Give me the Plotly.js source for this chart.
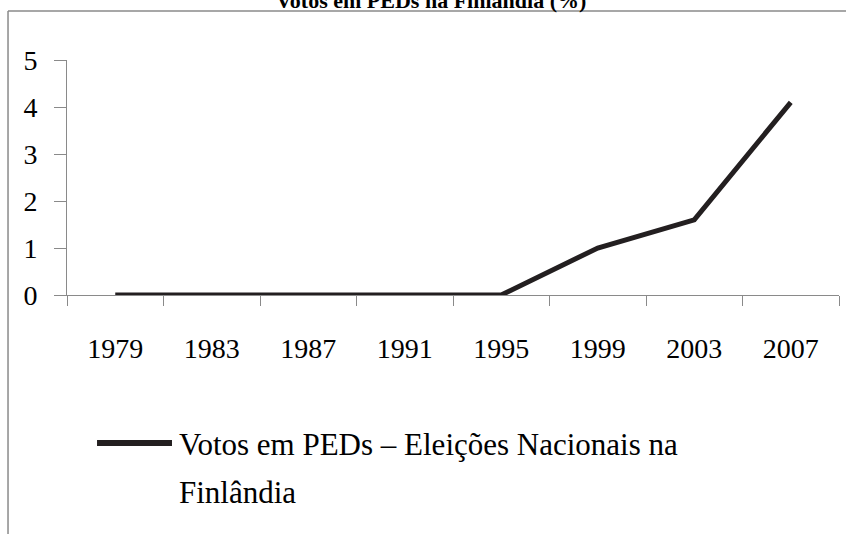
<!DOCTYPE html>
<html>
<head>
<meta charset="utf-8">
<script src="https://cdn.plot.ly/plotly-3.0.1.min.js"></script>
<style>html,body{margin:0;padding:0;background:#fff;}#chart{width:846px;height:534px;}</style>
</head>
<body>
<div id="chart"></div>
<script>
const years = ['1979', '1983', '1987', '1991', '1995', '1999', '2003', '2007'];
const votes = [0, 0, 0, 0, 0, 1.0, 1.6, 4.1];
const yTicks = [0, 1, 2, 3, 4, 5];
const chartTitle = 'Votos em PEDs na Finlândia (%)';
const seriesName = 'Votos em PEDs – Eleições Nacionais na Finlândia';
const legendLines = ['Votos em PEDs – Eleições Nacionais na', 'Finlândia'];

const FONT = 'Liberation Serif, Times New Roman, serif';
const lineColor = '#231f20';
const axisColor = '#8a8a8a';

const trace = {
  x: years,
  y: votes,
  type: 'scatter',
  mode: 'lines',
  name: seriesName,
  line: {color: lineColor, width: 5},
  showlegend: false
};

const layout = {
  width: 846,
  height: 534,
  margin: {l: 67, r: 7, t: 60, b: 239},
  paper_bgcolor: '#ffffff',
  plot_bgcolor: '#ffffff',
  font: {family: FONT, color: '#000000', size: 28},
  showlegend: false,
  xaxis: {
    type: 'category',
    range: [-0.5, 7.5],
    tickson: 'boundaries',
    ticks: 'outside',
    ticklen: 10,
    tickwidth: 1,
    tickcolor: axisColor,
    showline: true,
    linecolor: axisColor,
    linewidth: 1,
    showgrid: false,
    zeroline: false,
    ticklabelstandoff: 28,
    tickfont: {family: FONT, size: 28, color: '#000'}
  },
  yaxis: {
    range: [0, 5],
    tickvals: yTicks,
    ticktext: yTicks.map(String),
    ticks: 'outside',
    ticklen: 12,
    tickwidth: 1,
    tickcolor: axisColor,
    showline: true,
    linecolor: axisColor,
    linewidth: 1,
    showgrid: false,
    zeroline: false,
    ticklabelstandoff: 11,
    tickfont: {family: FONT, size: 28, color: '#000'}
  },
  shapes: [
    {type: 'line', xref: 'paper', yref: 'paper', x0: -0.0764, x1: -0.0764, y0: 1.2085, y1: -1.1,
     line: {color: axisColor, width: 1.5}},
    {type: 'line', xref: 'paper', yref: 'paper', x0: -0.0764, x1: 1.05, y0: 1.2085, y1: 1.2085,
     line: {color: axisColor, width: 1.5}},
    {type: 'line', xref: 'paper', yref: 'paper', x0: 0.0389, x1: 0.136, y0: -0.6298, y1: -0.6298,
     line: {color: lineColor, width: 6}}
  ],
  annotations: [
    {text: '<b>' + chartTitle + '</b>', xref: 'paper', yref: 'paper', x: 0.4715, y: 1.2536, xanchor: 'center', yanchor: 'middle',
     showarrow: false, font: {family: FONT, size: 22, color: '#000'}},
    {text: legendLines[0], xref: 'paper', yref: 'paper', x: 0.1425, y: -0.638, xanchor: 'left', yanchor: 'middle',
     showarrow: false, font: {family: FONT, size: 31, color: '#000'}},
    {text: legendLines[1], xref: 'paper', yref: 'paper', x: 0.1425, y: -0.84, xanchor: 'left', yanchor: 'middle',
     showarrow: false, font: {family: FONT, size: 31, color: '#000'}}
  ]
};

Plotly.newPlot('chart', [trace], layout, {displayModeBar: false, staticPlot: true});
</script>
</body>
</html>
